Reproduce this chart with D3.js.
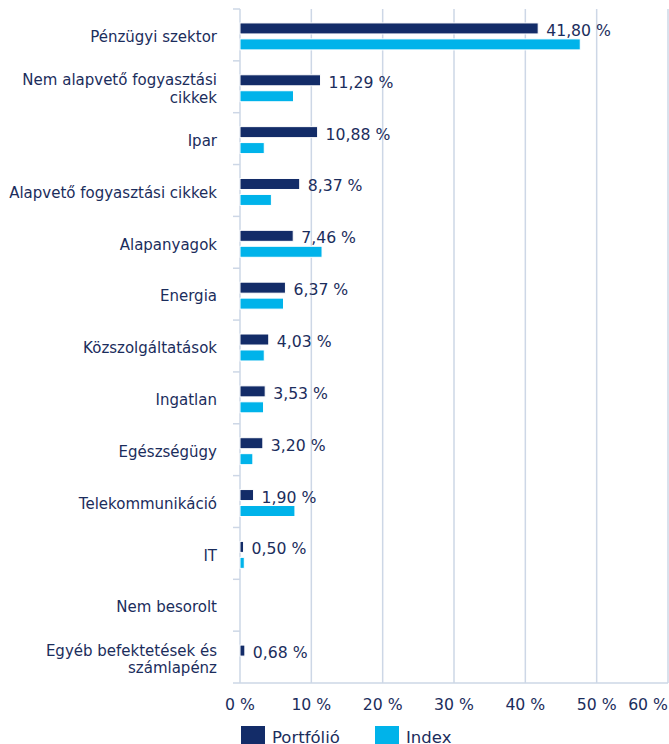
<!DOCTYPE html>
<html>
<head>
<meta charset="utf-8">
<script src="https://cdn.jsdelivr.net/npm/d3@7"></script>
<style>
  body { margin: 0; background: #fff; }
  svg { display: block; font-family: "DejaVu Sans", Verdana, sans-serif; }
</style>
</head>
<body>
<svg width="669" height="744"></svg>
<script>
// Sector names (line breaks as in the picture)
var categories = [
  "Pénzügyi szektor",
  "Nem alapvető fogyasztási\ncikkek",
  "Ipar",
  "Alapvető fogyasztási cikkek",
  "Alapanyagok",
  "Energia",
  "Közszolgáltatások",
  "Ingatlan",
  "Egészségügy",
  "Telekommunikáció",
  "IT",
  "Nem besorolt",
  "Egyéb befektetések és\nszámlapénz"
];

var portfolio = [41.80, 11.29, 10.88, 8.37, 7.46, 6.37, 4.03, 3.53, 3.20, 1.90, 0.50, 0, 0.68];
var index     = [47.7, 7.5, 3.4, 4.4, 11.5, 6.1, 3.4, 3.3, 1.8, 7.7, 0.6, 0, 0];

var seriesNames = ["Portfólió", "Index"];
var xTicks = [0, 10, 20, 30, 40, 50, 60];

var colors = { "Portfólió": "#132c68", "Index": "#00b3ea" };
var textColor = "#1b2d5c";
var gridColor = "#cdd7e6";

var svg = d3.select("svg");

// plot box (note: "top" is a reserved window property, so use other names)
var plotLeft = 240, plotRight = 668, plotTop = 9, plotBottom = 683;

var x = d3.scaleLinear().domain([0, 60]).range([plotLeft, plotRight]);

// One row per category
var y = d3.scaleBand()
    .domain(categories)
    .range([plotTop, plotBottom])
    .paddingInner(0.48)
    .paddingOuter(0.24)
    .align(0.56);

var ySub = d3.scaleBand()
    .domain(seriesNames)
    .range([0, y.bandwidth()])
    .paddingInner(0.31);

var rows = categories.map(function(c, i) {
  return { name: c, values: [portfolio[i], index[i]] };
});

// Vertical grid lines
svg.append("g")
  .selectAll("line")
  .data(xTicks)
  .enter().append("line")
    .attr("x1", function(d) { return x(d); })
    .attr("x2", function(d) { return x(d); })
    .attr("y1", plotTop)
    .attr("y2", plotBottom)
    .attr("stroke", gridColor)
    .attr("stroke-width", 1.5);

// bottom axis line
svg.append("line")
    .attr("x1", plotLeft).attr("x2", plotRight)
    .attr("y1", plotBottom).attr("y2", plotBottom)
    .attr("stroke", gridColor)
    .attr("stroke-width", 1.5);

// category separator ticks on the left
var rowH = (plotBottom - plotTop) / categories.length;
var bounds = d3.range(categories.length + 1).map(function(i) { return plotTop + i * rowH; });
svg.append("g")
  .selectAll("line")
  .data(bounds)
  .enter().append("line")
    .attr("x1", plotLeft - 7)
    .attr("x2", plotLeft)
    .attr("y1", function(d) { return d; })
    .attr("y2", function(d) { return d; })
    .attr("stroke", gridColor)
    .attr("stroke-width", 1.5);

// Bars
var group = svg.append("g")
  .selectAll("g")
  .data(rows)
  .enter().append("g")
    .attr("transform", function(d) { return "translate(0," + y(d.name) + ")"; });

group.selectAll("rect")
  .data(function(d) {
    return d.values.map(function(v, j) { return { series: seriesNames[j], value: v }; })
      .filter(function(e) { return e.value > 0; });
  })
  .enter().append("rect")
    .attr("x", x(0))
    .attr("y", function(d) { return ySub(d.series); })
    .attr("width", function(d) { return x(d.value) - x(0); })
    .attr("height", ySub.bandwidth())
    .attr("fill", function(d) { return colors[d.series]; })
    .attr("stroke", "#fff")
    .attr("stroke-width", 1);

// Value labels next to the portfolio bar
group.filter(function(d) { return d.values[0] > 0; })
  .append("text")
    .attr("x", function(d) { return x(d.values[0]) + 8; })
    .attr("y", ySub("Portfólió") + ySub.bandwidth() / 2 + 2)
    .attr("dy", "0.35em")
    .attr("fill", textColor)
    .style("font-size", "15.7px")
    .text(function(d) { return d3.format(".2f")(d.values[0]).replace(".", ",") + " %"; });

// Category labels
var catLabels = svg.append("g")
  .selectAll("text")
  .data(categories)
  .enter().append("text")
    .attr("text-anchor", "end")
    .attr("fill", textColor)
    .style("font-size", "15px")
    .attr("x", 217)
    .attr("y", function(d, i) { return (bounds[i] + bounds[i + 1]) / 2 + 2; });

catLabels.each(function(d) {
  var lines = d.split("\n");
  var t = d3.select(this);
  lines.forEach(function(line, k) {
    t.append("tspan")
      .attr("x", 217)
      .attr("dy", k === 0 ? ((0.35 - (lines.length - 1) * 0.58) + "em") : "1.16em")
      .text(line);
  });
});

// X tick labels (last one kept inside the picture)
svg.append("g")
  .selectAll("text")
  .data(xTicks)
  .enter().append("text")
    .attr("x", function(d) { return x(d); })
    .attr("y", 705)
    .attr("dy", "0.35em")
    .attr("text-anchor", function(d, i) { return i === xTicks.length - 1 ? "end" : "middle"; })
    .attr("fill", textColor)
    .style("font-size", "15.7px")
    .text(function(d) { return d + " %"; });

// Legend
var legendX = [241, 375];
var legend = svg.append("g")
  .selectAll("g")
  .data(seriesNames)
  .enter().append("g")
    .attr("transform", function(d, i) { return "translate(" + legendX[i] + ",726)"; });

legend.append("rect")
    .attr("width", 24)
    .attr("height", 20)
    .attr("fill", function(d) { return colors[d]; });

legend.append("text")
    .attr("x", 31)
    .attr("y", 11)
    .attr("dy", "0.35em")
    .attr("fill", textColor)
    .style("font-size", "16.5px")
    .text(function(d) { return d; });
</script>
</body>
</html>
